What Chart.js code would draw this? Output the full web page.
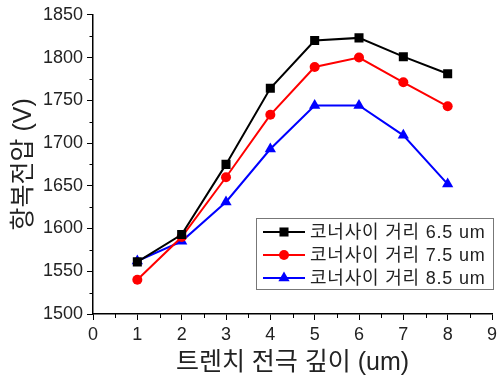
<!DOCTYPE html>
<html><head><meta charset="utf-8">
<script src="https://cdn.jsdelivr.net/npm/chart.js@4/dist/chart.umd.min.js"></script>
<style>html,body{margin:0;padding:0;background:#fff}#wrap{width:504px;height:376px}</style>
</head><body><div id="wrap"><canvas id="c" width="504" height="376"></canvas></div>
<script>
const depths = [1, 2, 3, 4, 5, 6, 7, 8];
const seriesLabels = ['코너사이 거리 6.5 um', '코너사이 거리 7.5 um', '코너사이 거리 8.5 um'];
const v65 = [1561, 1593, 1675, 1764, 1820, 1823, 1801, 1781];
const v75 = [1540, 1590, 1660, 1733, 1789, 1800, 1771, 1743];
const v85 = [1562, 1585, 1631, 1693, 1744, 1744, 1709, 1652];
const xTitle = '트렌치 전극 깊이 (um)';
const yTitle = '항복전압 (V)';
const xMin = 0, xMax = 9, yMin = 1500, yMax = 1850;

const FONT = '"Liberation Sans", "Noto Sans CJK KR", Arial, sans-serif';
const toPts = vals => depths.map((d, i) => ({x: d, y: vals[i]}));

function drawMarker(ctx, style, r, x, y) {
  ctx.beginPath();
  if (style === 'rect') {
    const s = r * Math.SQRT1_2;
    ctx.rect(x - s, y - s, 2 * s, 2 * s);
  } else if (style === 'triangle') {
    ctx.moveTo(x, y - r);
    ctx.lineTo(x + r * 0.866, y + r * 0.5);
    ctx.lineTo(x - r * 0.866, y + r * 0.5);
    ctx.closePath();
  } else {
    ctx.arc(x, y, r, 0, Math.PI * 2);
  }
  ctx.fill();
}

const minorTicks = {
  id: 'minorTicks',
  afterDraw(chart) {
    const ctx = chart.ctx, xs = chart.scales.x, ys = chart.scales.y;
    ctx.save();
    ctx.strokeStyle = '#000'; ctx.lineWidth = 1;
    for (let v = yMin + 25; v < yMax; v += 50) {
      const py = Math.round(ys.getPixelForValue(v)) + 0.5;
      ctx.beginPath(); ctx.moveTo(xs.left - 3.5, py); ctx.lineTo(xs.left, py); ctx.stroke();
    }
    for (let v = xMin + 0.5; v < xMax; v += 1) {
      const px = Math.round(xs.getPixelForValue(v)) + 0.5;
      ctx.beginPath(); ctx.moveTo(px, ys.bottom); ctx.lineTo(px, ys.bottom + 4); ctx.stroke();
    }
    ctx.restore();
  }
};

const boxLegend = {
  id: 'boxLegend',
  afterDraw(chart) {
    const ctx = chart.ctx;
    const x0 = 256, y0 = 218, w = 237, h = 71;
    ctx.save();
    ctx.fillStyle = '#fff';
    ctx.fillRect(x0, y0, w, h);
    ctx.strokeStyle = '#777'; ctx.lineWidth = 1;
    ctx.strokeRect(x0 + 0.5, y0 + 0.5, w, h);
    chart.data.datasets.forEach((ds, i) => {
      const cy = 232 + i * 23;
      ctx.strokeStyle = ds.borderColor; ctx.lineWidth = 2;
      ctx.beginPath(); ctx.moveTo(263, cy); ctx.lineTo(305, cy); ctx.stroke();
      ctx.fillStyle = ds.backgroundColor;
      drawMarker(ctx, ds.pointStyle, ds.pointRadius, 284, cy);
      ctx.fillStyle = '#222';
      ctx.font = '18px ' + FONT;
      ctx.textBaseline = 'middle';
      try { ctx.letterSpacing = '0.8px'; } catch (e) {}
      ctx.fillText(ds.label, 310, cy + 1);
    });
    ctx.restore();
  }
};

new Chart(document.getElementById('c'), {
  type: 'line',
  data: {
    datasets: [
      {label: seriesLabels[0], data: toPts(v65), borderColor: '#000', backgroundColor: '#000', pointStyle: 'rect', pointRadius: 6.4, borderWidth: 2, pointBorderWidth: 0},
      {label: seriesLabels[1], data: toPts(v75), borderColor: '#ff0000', backgroundColor: '#ff0000', pointStyle: 'circle', pointRadius: 5, borderWidth: 2, pointBorderWidth: 0},
      {label: seriesLabels[2], data: toPts(v85), borderColor: '#0000ff', backgroundColor: '#0000ff', pointStyle: 'triangle', pointRadius: 6.5, borderWidth: 2, pointBorderWidth: 0}
    ]
  },
  options: {
    responsive: false,
    animation: false,
    layout: {padding: {left: 0, right: 12, top: 14, bottom: 0}},
    plugins: {legend: {display: false}, tooltip: {enabled: false}},
    scales: {
      x: {
        type: 'linear', min: xMin, max: xMax,
        border: {display: true, color: '#000', width: 1.5},
        grid: {drawOnChartArea: false, drawTicks: true, tickLength: 6, tickColor: '#000', tickWidth: 1},
        ticks: {stepSize: 1, autoSkip: false, color: '#222', font: {size: 18, family: FONT}, padding: 4, maxRotation: 0,
                callback: v => String(v)},
        title: {display: true, text: xTitle, color: '#222', font: {size: 25, family: FONT, lineHeight: 1}, padding: {top: 0, bottom: 0}},
        afterFit(s) { s.height = 62; }
      },
      y: {
        min: yMin, max: yMax,
        border: {display: true, color: '#000', width: 1.5},
        grid: {drawOnChartArea: false, drawTicks: true, tickLength: 6, tickColor: '#000', tickWidth: 1},
        ticks: {stepSize: 50, autoSkip: false, color: '#222', font: {size: 18, family: FONT}, padding: 4,
                callback: v => String(v)},
        title: {display: true, text: yTitle, color: '#222', font: {size: 25, family: FONT, lineHeight: 1}, padding: {top: 12, bottom: 0}},
        afterFit(s) { s.width = 93; }
      }
    }
  },
  plugins: [minorTicks, boxLegend]
});
</script></body></html>
